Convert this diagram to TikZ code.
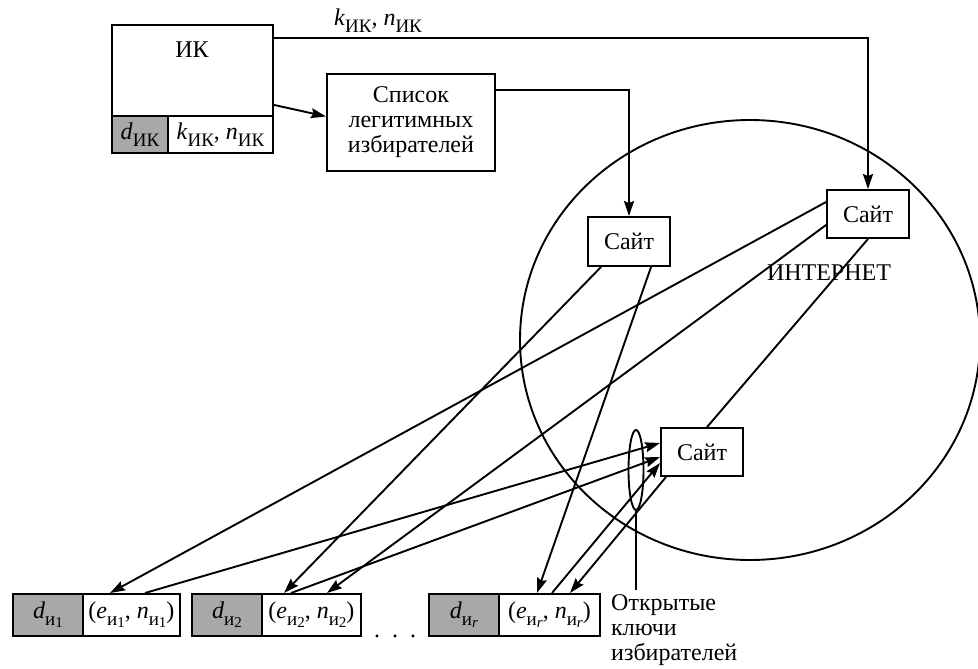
\documentclass[tikz,border=0pt]{standalone}
\usepackage{fontspec}
\setmainfont{Liberation Serif}
\usetikzlibrary{arrows.meta,calc,shapes.geometric}
\definecolor{keygray}{RGB}{168,168,168}
% lowered subscripts in text mode (first and second level)
\newcommand\lw[1]{\raisebox{-7pt}{\fontsize{19}{19}\selectfont #1}}
\newcommand\llw[1]{\raisebox{-2pt}{\fontsize{15}{15}\selectfont #1}}

\begin{document}
\begin{tikzpicture}[x=1pt,y=-1pt,
  every node/.style={font=\fontsize{24}{25}\selectfont, inner sep=0pt},
  box/.style={draw, fill=white, line width=1.9pt, align=center},
  cell/.style={box, minimum height=42pt, anchor=north west},
  dcell/.style={cell, fill=keygray},
  link/.style={line width=1.9pt},
  arr/.style={link, -{Stealth[length=15pt,width=10pt,inset=2pt]}}
]
\useasboundingbox (0,0) rectangle (978,669);

% the Internet
\draw[link] (750,340) ellipse [x radius=230pt, y radius=220pt];
\node (net) at (829,273) {ИНТЕРНЕТ};

% election commission with its key pair
\node[box, minimum width=161pt, minimum height=91pt, anchor=north west] (ik) at (111,24) {};
\node (iktitle) at (192,50) {ИК};
\node[dcell, minimum width=56pt, minimum height=37pt] (ikd) at (111,115) {\textit{d}\lw{ИК}};
\node[cell, minimum width=105pt, minimum height=37pt] (ikk) at (167,115) {\textit{k}\lw{ИК}, \textit{n}\lw{ИК}};
\node (pub) at (378,21) {\textit{k}\lw{ИК}, \textit{n}\lw{ИК}};

% list of voters
\node[box, minimum width=168pt, minimum height=97pt, anchor=north west] (list) at (326,73) {Список\\легитимных\\избирателей};

% sites
\node[box, minimum width=82pt, minimum height=49pt] (s1) at (629,241.5) {Сайт};
\node[box, minimum width=82pt, minimum height=48pt] (s2) at (868,214) {Сайт};
\node[box, minimum width=82pt, minimum height=48pt] (s3) at (702,452) {Сайт};

% voters' key pairs
\node[dcell, minimum width=70pt] (v1d) at (12,593) {\textit{d}\lw{и\llw{1}}};
\node[cell, minimum width=97pt] (v1k) at (82,593) {(\textit{e}\lw{и\llw{1}}, \textit{n}\lw{и\llw{1}})};
\node[dcell, minimum width=70pt] (v2d) at (191,593) {\textit{d}\lw{и\llw{2}}};
\node[cell, minimum width=99pt] (v2k) at (261,593) {(\textit{e}\lw{и\llw{2}}, \textit{n}\lw{и\llw{2}})};
\node[anchor=base] (dots) at (395,637) {.\hspace{12pt}.\hspace{12pt}.};
\node[dcell, minimum width=70pt] (vrd) at (428,593) {\textit{d}\lw{и\llw{\textit{r}}}};
\node[cell, minimum width=101pt] (vrk) at (498,593) {(\textit{e}\lw{и\llw{\textit{r}}}, \textit{n}\lw{и\llw{\textit{r}}})};

% public keys marker
\node[draw, ellipse, line width=1.9pt, minimum width=15pt, minimum height=80pt] (ring) at (636,470) {};
\node[anchor=north west, align=left] (keys) at (611,594) {Открытые\\ключи\\избирателей};
\draw[link] (ring.south) -- ([yshift=4pt]ring.south |- keys.north);

% commission connectors
\draw[arr] ([yshift=-14pt]ik.north east) -| (s2.north);
\draw[arr] ([yshift=12pt]ik.south east) -- ([yshift=6pt]list.west);
\draw[arr] ([yshift=32pt]list.east) -| (s1.north);

% sites to voters
\draw[arr] ([yshift=12pt]s2.west) -- ($(v1k.north west)+(28,0)$);
\draw[arr] ($(s1.south west)+(14,0)$) -- ($(v2k.north west)+(23,0)$);
\draw[arr] ([yshift=-11pt]s2.west) -- ($(v2k.north west)+(66,0)$);
\draw[arr] ($(s1.south west)+(64,0)$) -- ($(vrk.north west)+(39,0)$);
\draw[arr] ($(s3.south west)+(6,0)$) -- ($(vrk.north west)+(72,0)$);
\draw[link] (s2.south) -- ($(s3.north west)+(47,0)$);

% voters to site
\draw[arr] ($(v1k.north west)+(63,0)$) -- ([yshift=9pt]s3.west);
\draw[arr] ($(v2k.north west)+(30,0)$) -- ([yshift=-5pt]s3.west);
\draw[arr] ($(vrk.north west)+(54,0)$) -- ([yshift=-11pt]s3.west);
\end{tikzpicture}
\end{document}
